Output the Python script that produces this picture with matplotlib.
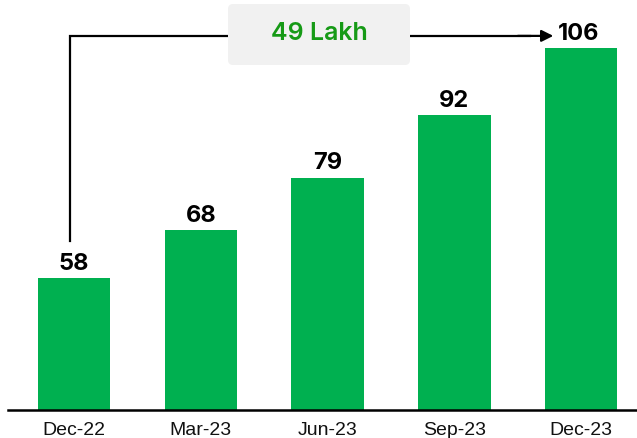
import matplotlib
matplotlib.use("Agg")
import matplotlib.pyplot as plt
from matplotlib.patches import FancyBboxPatch

# data
quarters = ["Dec-22", "Mar-23", "Jun-23", "Sep-23", "Dec-23"]
values = [58, 68, 79, 92, 106]
growth_label = "49 Lakh"

bar_color = "#00b050"
W, H = 637, 439

fig = plt.figure(figsize=(W / 100, H / 100), dpi=100)
ax = fig.add_axes([8 / W, 1 - 411 / H, 1 - 8 / W, 411 / H])

x = list(range(len(quarters)))
ax.bar(x, values, width=0.57, color=bar_color, zorder=2)

for xi, v in zip(x, values):
    ax.text(xi + (0.0 if v < 100 else -0.02), v + 0.9, str(v), ha="center", va="bottom",
            fontsize=17, fontweight="bold", family="Inter", color="black")

ax.set_xlim(-0.52, 4.44)
ax.set_ylim(30.5, 116.3)

for s in ["top", "right", "left"]:
    ax.spines[s].set_visible(False)
ax.spines["bottom"].set_linewidth(1.8)
ax.spines["bottom"].set_color("black")
ax.set_yticks([])
ax.set_xticks(x)
ax.set_xticklabels(quarters, fontsize=14, family="Liberation Sans", color="#111111")
ax.tick_params(axis="x", length=0, pad=8)

# connector from first bar to last bar
y_top = 108.6
x0 = x[0] - 0.03
ax.plot([x0, x0, 3.6], [values[0] + 7.8, y_top, y_top], color="black", lw=1.6,
        zorder=3, clip_on=False, solid_joinstyle="miter")
ax.annotate("", xy=(3.78, y_top), xytext=(3.5, y_top),
            arrowprops=dict(arrowstyle="-|>,head_length=0.7,head_width=0.35",
                            color="black", lw=1.6, shrinkA=0, shrinkB=0),
            zorder=3, annotation_clip=False)

box = FancyBboxPatch((228 / W, 1 - 66 / H), 182 / W, 61 / H,
                     boxstyle="round,pad=0,rounding_size=0.008",
                     mutation_aspect=W / H, transform=fig.transFigure,
                     facecolor="#f1f1f1", edgecolor="none", zorder=4)
fig.patches.append(box)
fig.text(319 / W, 1 - 33 / H, growth_label, ha="center", va="center", fontsize=18,
         fontweight="semibold", family="Inter", color="#169a16", zorder=5)

fig.savefig("out.png", dpi=100)
